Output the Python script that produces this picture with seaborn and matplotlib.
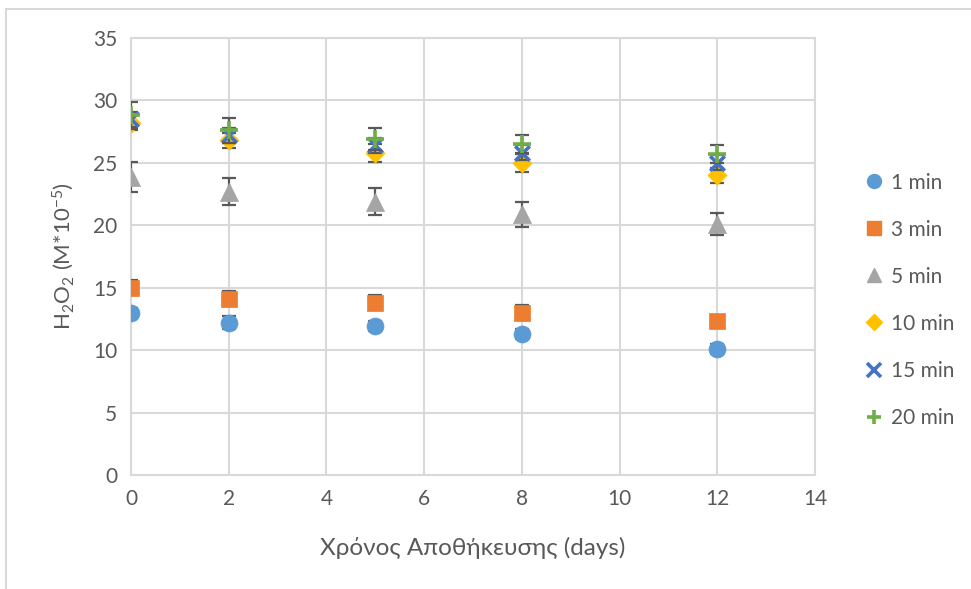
import matplotlib
matplotlib.use("Agg")
import matplotlib.pyplot as plt
from matplotlib.lines import Line2D
from matplotlib.patches import Rectangle
import seaborn as sns
import pandas as pd

# Storage time (days)
days = [0, 2, 5, 8, 12]

# H2O2 concentration (M*10^-5) per treatment time
h2o2_1min = [13.0, 12.2, 11.9, 11.3, 10.1]
h2o2_3min = [15.0, 14.1, 13.8, 13.0, 12.3]
h2o2_5min = [23.9, 22.7, 21.9, 20.9, 20.1]
h2o2_10min = [28.2, 26.8, 25.8, 25.0, 24.0]
h2o2_15min = [28.5, 27.2, 26.4, 25.8, 25.0]
h2o2_20min = [28.8, 27.6, 26.9, 26.5, 25.7]

# Standard deviations
err_1min = [0.4, 0.5, 0.4, 0.4, 0.4]
err_3min = [0.6, 0.6, 0.6, 0.6, 0.4]
err_5min = [1.2, 1.1, 1.1, 1.0, 0.9]
err_10min = [0.6, 0.6, 0.7, 0.7, 0.6]
err_15min = [0.6, 0.6, 0.6, 0.6, 0.6]
err_20min = [1.1, 1.0, 0.9, 0.7, 0.7]

labels = ["1 min", "3 min", "5 min", "10 min", "15 min", "20 min"]
values = [h2o2_1min, h2o2_3min, h2o2_5min, h2o2_10min, h2o2_15min, h2o2_20min]
errors = [err_1min, err_3min, err_5min, err_10min, err_15min, err_20min]

colors = ["#5B9BD5", "#ED7D31", "#A5A5A5", "#FFC000", "#4472C4", "#70AD47"]
markers = ["o", "s", "^", "D", "x", "+"]
sizes = [150, 130, 170, 95, 110, 150]

sns.set_theme(style="white")
plt.rcParams["font.family"] = ["Lato", "DejaVu Sans"]
plt.rcParams["mathtext.fontset"] = "custom"
plt.rcParams["mathtext.rm"] = "Lato"
plt.rcParams["mathtext.it"] = "Lato:italic"
text_color = "#595959"
grid_color = "#D9D9D9"

fig = plt.figure(figsize=(9.71, 5.89), dpi=100)
ax = fig.add_axes([0.1349, 0.1935, 0.7044, 0.742])

# frame around the chart area
fig.patches.append(Rectangle((6 / 971, -0.5), 1.5, 1.5 - 9 / 589,
                             transform=fig.transFigure, fill=False,
                             edgecolor=grid_color, linewidth=1.5, zorder=0))

frames = []
for lab, v, e in zip(labels, values, errors):
    frames.append(pd.DataFrame({"day": days, "h2o2": v, "err": e, "series": lab}))
df = pd.concat(frames, ignore_index=True)

for i, lab in enumerate(labels):
    sub = df[df["series"] == lab]
    ax.errorbar(sub["day"], sub["h2o2"], yerr=sub["err"], fmt="none",
                ecolor="#595959", elinewidth=1.6, capsize=5, capthick=1.6,
                zorder=2 + i)
    mk = markers[i]
    if mk in ("x", "+"):
        sns.scatterplot(data=sub, x="day", y="h2o2", marker=mk, s=sizes[i],
                        color=colors[i], linewidth=2.6, ax=ax, zorder=3 + i,
                        legend=False)
    else:
        sns.scatterplot(data=sub, x="day", y="h2o2", marker=mk, s=sizes[i],
                        color=colors[i], edgecolor=colors[i], linewidth=0.5,
                        ax=ax, zorder=3 + i, legend=False)

ax.set_xlim(0, 14)
ax.set_ylim(0, 35)
ax.set_xticks(range(0, 15, 2))
ax.set_yticks(range(0, 36, 5))
ax.grid(True, color=grid_color, linewidth=1.5)
ax.set_axisbelow(True)
for s in ax.spines.values():
    s.set_color(grid_color)
    s.set_linewidth(1.5)
ax.tick_params(axis="both", length=0, labelsize=15, labelcolor=text_color, pad=10)
ax.set_xlabel("Χρόνος Αποθήκευσης (days)", fontsize=17.5, color=text_color, labelpad=20)
ax.set_ylabel("H$_2$O$_2$ (M*10$^{-5}$)", fontsize=16, color=text_color, labelpad=12)

handles = []
for i, lab in enumerate(labels):
    mk = markers[i]
    if mk in ("x", "+"):
        h = Line2D([], [], linestyle="none", marker=mk, color=colors[i],
                   markersize=10, markeredgewidth=2.6)
    else:
        h = Line2D([], [], linestyle="none", marker=mk, color=colors[i],
                   markeredgecolor=colors[i], markersize=10 if mk != "D" else 8)
    handles.append(h)
leg = ax.legend(handles=handles, labels=labels, loc="center left",
                bbox_to_anchor=(1.04, 0.40), frameon=False, fontsize=15,
                labelspacing=1.3, handletextpad=0.25, handlelength=1.2)
for t in leg.get_texts():
    t.set_color(text_color)

fig.savefig("out.png", dpi=100)
